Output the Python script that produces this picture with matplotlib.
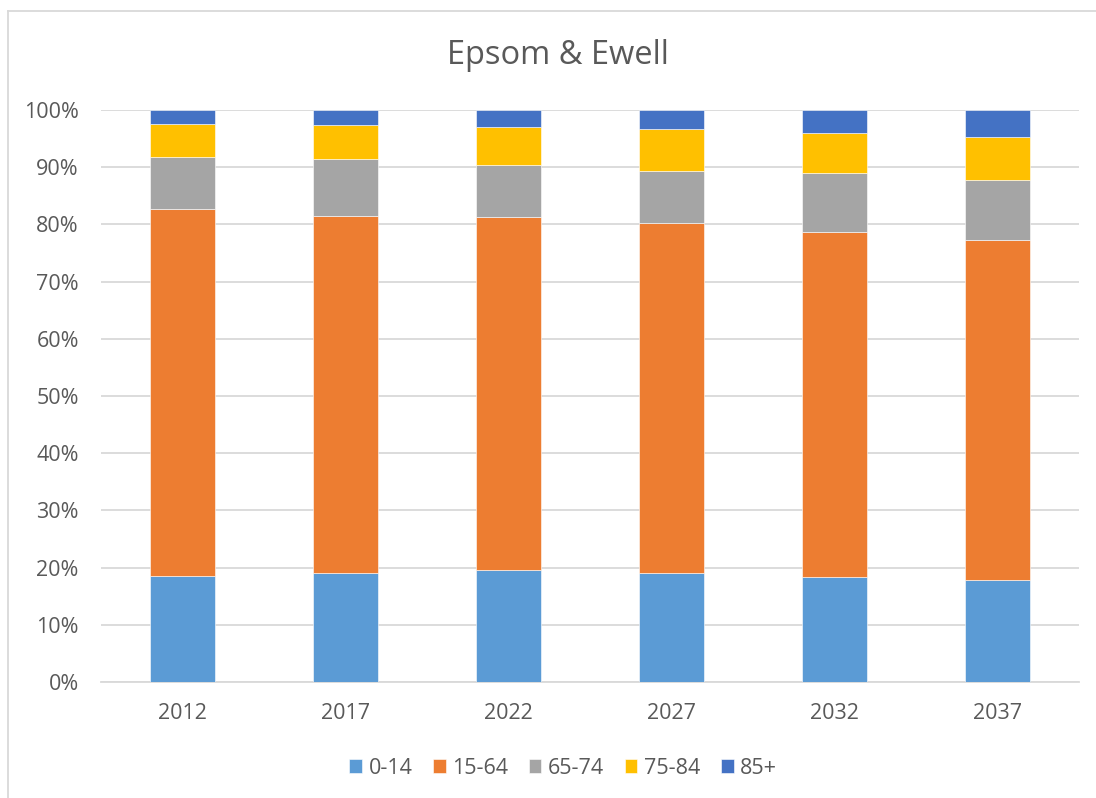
import numpy as np
import matplotlib
matplotlib.use("Agg")
import matplotlib.pyplot as plt
from matplotlib.lines import Line2D
from matplotlib.ticker import PercentFormatter

years = ["2012", "2017", "2022", "2027", "2032", "2037"]
age_groups = ["0-14", "15-64", "65-74", "75-84", "85+"]
colors = ["#5B9BD5", "#ED7D31", "#A5A5A5", "#FFC000", "#4472C4"]

# share of population (%) per age group
age_0_14 = [18.5, 19.0, 19.5, 19.0, 18.4, 17.8]
age_15_64 = [64.2, 62.5, 61.8, 61.2, 60.2, 59.4]
age_65_74 = [9.1, 10.0, 9.1, 9.1, 10.3, 10.6]
age_75_84 = [5.7, 5.8, 6.6, 7.4, 7.0, 7.4]
age_85_plus = [2.5, 2.7, 3.0, 3.3, 4.1, 4.8]

series = [age_0_14, age_15_64, age_65_74, age_75_84, age_85_plus]

plt.rcParams['font.family'] = ['Open Sans', 'DejaVu Sans']
text_col = "#595959"
grid_col = "#D9D9D9"

W, H = 1096, 798
fig = plt.figure(figsize=(W / 100, H / 100), dpi=100)
ax = fig.add_axes([101 / W, 1 - 682 / H, 978 / W, 572 / H])

x = np.arange(len(years))
bottom = np.zeros(len(years))
for name, vals, c in zip(age_groups, series, colors):
    vals = np.array(vals)
    ax.bar(x, vals, 0.4, bottom=bottom, color=c, label=name,
           edgecolor="white", linewidth=0.4, zorder=3)
    bottom = bottom + vals

ax.set_xlim(-0.5, len(years) - 0.5)
ax.set_ylim(0, 100)
ax.set_yticks(np.arange(0, 101, 10))
ax.yaxis.set_major_formatter(PercentFormatter(decimals=0))
ax.set_xticks(x)
ax.set_xticklabels(years)
ax.grid(axis="y", color=grid_col, linewidth=1.3, zorder=0)
for s in ["top", "right", "left"]:
    ax.spines[s].set_visible(False)
ax.spines["bottom"].set_color(grid_col)
ax.spines["bottom"].set_linewidth(1.3)
ax.tick_params(axis="both", length=0, labelsize=15.5, colors=text_col)
ax.tick_params(axis="y", pad=16)
ax.tick_params(axis="x", pad=15)

fig.text(558 / W, 1 - 55 / H, "Epsom & Ewell", ha="center", va="center",
         fontsize=23.5, color=text_col)

handles, labels = ax.get_legend_handles_labels()
fig.legend(handles, labels, loc="center", bbox_to_anchor=(563 / W, 1 - 768 / H),
           ncol=5, frameon=False, fontsize=15.5, labelcolor=text_col,
           handlelength=0.6, handleheight=0.6, handletextpad=0.3,
           columnspacing=0.95)

# chart area border
fig.add_artist(Line2D([8 / W, 8 / W], [0, 1 - 11 / H], color=grid_col, linewidth=1.3))
fig.add_artist(Line2D([8 / W, 1], [1 - 11 / H, 1 - 11 / H], color=grid_col, linewidth=1.3))

fig.savefig("out.png", dpi=100)
